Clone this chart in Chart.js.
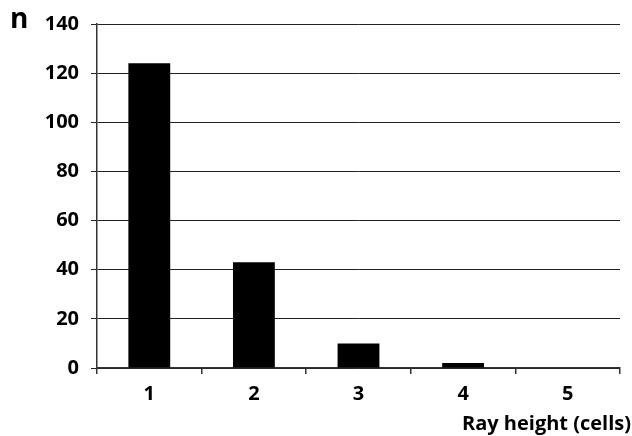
<!DOCTYPE html>
<html>
<head>
<meta charset="utf-8">
<script src="https://cdn.jsdelivr.net/npm/chart.js@4"></script>
<style>
  body { margin: 0; background: #fff; }
  #wrap { width: 632px; height: 436px; position: relative; }
</style>
</head>
<body>
<div id="wrap"><canvas id="chart"></canvas></div>
<script>
const categories = ['1', '2', '3', '4', '5'];
const counts = [124, 43, 10, 2, 0];
const yTicks = [0, 20, 40, 60, 80, 100, 120, 140];
const yTitle = 'n';
const xTitle = 'Ray height (cells)';

const fontFamily = '"Open Sans", "DejaVu Sans", sans-serif';

// axis titles sit outside the usual spots: "n" top-left, x title flush right
const axisTitlePlugin = {
    id: 'axisTitles',
    afterDraw(chart) {
        const ctx = chart.ctx;
        const y = chart.scales.y;
        const x = chart.scales.x;
        ctx.save();
        ctx.fillStyle = '#000';
        ctx.textBaseline = 'middle';
        ctx.font = 'bold 28px ' + fontFamily;
        ctx.textAlign = 'left';
        ctx.fillText(yTitle, 10, y.getPixelForValue(140) - 4);
        ctx.font = 'bold 20px ' + fontFamily;
        ctx.textAlign = 'right';
        ctx.fillText(xTitle, chart.width - 1, x.bottom - 12);
        ctx.restore();
    }
};

Chart.defaults.font.family = fontFamily;

new Chart(document.getElementById('chart'), {
    type: 'bar',
    data: {
        labels: categories,
        datasets: [{
            data: counts,
            backgroundColor: '#000',
            borderWidth: 0,
            barPercentage: 0.4,
            categoryPercentage: 1
        }]
    },
    options: {
        responsive: true,
        maintainAspectRatio: false,
        animation: false,
        layout: { padding: { left: 0, top: 23, right: 12, bottom: 0 } },
        plugins: {
            legend: { display: false },
            tooltip: { enabled: false }
        },
        scales: {
            x: {
                grid: {
                    offset: true,
                    drawOnChartArea: false,
                    drawTicks: true,
                    tickLength: 6,
                    color: '#333',
                    lineWidth: 1.5
                },
                border: { color: '#333', width: 1.5 },
                ticks: {
                    color: '#000',
                    padding: 8,
                    font: { size: 20, weight: 'bold' }
                },
                afterFit(scale) { scale.height = 68; }
            },
            y: {
                min: 0,
                max: 140,
                afterBuildTicks(scale) {
                    scale.ticks = yTicks.map(v => ({ value: v }));
                },
                grid: {
                    color: '#222',
                    lineWidth: 1,
                    drawTicks: true,
                    tickLength: 6
                },
                border: { color: '#333', width: 1.5 },
                ticks: {
                    color: '#000',
                    padding: 12,
                    font: { size: 20, weight: 'bold' }
                },
                afterFit(scale) { scale.width = 97; }
            }
        }
    },
    plugins: [axisTitlePlugin]
});
</script>
</body>
</html>
